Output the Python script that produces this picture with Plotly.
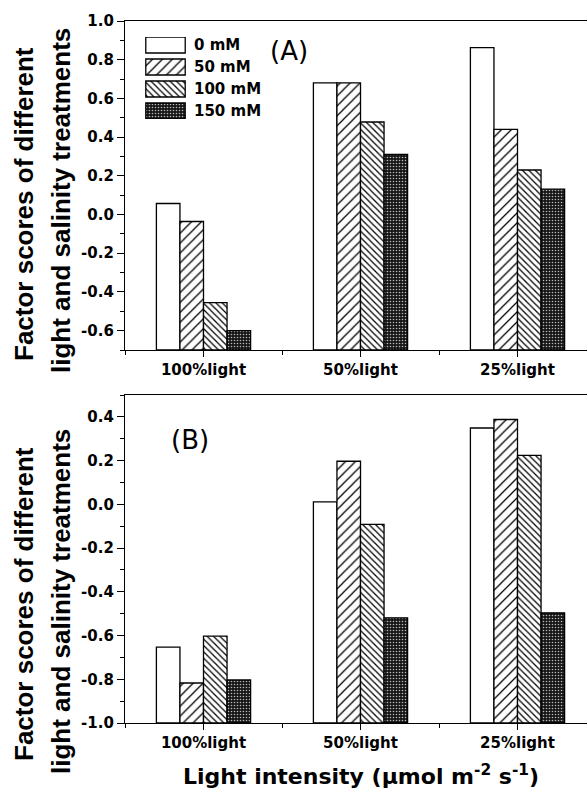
import plotly.graph_objects as go

W, H = 587, 792

# ---- data ----
categories = ["100%light", "50%light", "25%light"]
series_names = ["0 mM", "50 mM", "100 mM", "150 mM"]

scores_a = {
    "0 mM":   [0.057, 0.68, 0.862],
    "50 mM":  [-0.036, 0.68, 0.44],
    "100 mM": [-0.455, 0.478, 0.23],
    "150 mM": [-0.60, 0.311, 0.131],
}
scores_b = {
    "0 mM":   [-0.653, 0.011, 0.349],
    "50 mM":  [-0.817, 0.197, 0.388],
    "100 mM": [-0.603, -0.092, 0.224],
    "150 mM": [-0.803, -0.519, -0.496],
}

range_a = [-0.7, 1.0]
range_b = [-1.0, 0.5]

yticks_a = [-0.6, -0.4, -0.2, 0.0, 0.2, 0.4, 0.6, 0.8, 1.0]
ylabels_a = ["-0.6", "-0.4", "-0.2", "0.0", "0.2", "0.4", "0.6", "0.8", "1.0"]
yticks_b = [-1.0, -0.8, -0.6, -0.4, -0.2, 0.0, 0.2, 0.4]
ylabels_b = ["-1.0", "-0.8", "-0.6", "-0.4", "-0.2", "0.0", "0.2", "0.4"]

# ---- styles ----
patterns = {
    "0 mM":   dict(shape="", fgcolor="black", bgcolor="white"),
    "50 mM":  dict(shape="/", fgcolor="black", bgcolor="white", size=7, solidity=0.18, fillmode="replace"),
    "100 mM": dict(shape="\\", fgcolor="black", bgcolor="white", size=4.5, solidity=0.28, fillmode="replace"),
    "150 mM": dict(shape=".", fgcolor="#b8b8b8", bgcolor="#161616", size=3, solidity=0.22, fillmode="replace"),
}

TICK_FONT = dict(family="DejaVu Sans", size=15, color="black", weight="bold")


def px_x(p):
    return p / W


def px_y(p):
    return 1 - p / H


fig = go.Figure()

xpos = list(range(len(categories)))

for name in series_names:
    for vals, rng, xa, ya in ((scores_a[name], range_a, "x", "y"),
                              (scores_b[name], range_b, "x2", "y2")):
        base = rng[0]
        fig.add_trace(go.Bar(
            x=xpos, y=[v - base for v in vals], base=base,
            name=name, offsetgroup=name, showlegend=False,
            xaxis=xa, yaxis=ya,
            marker=dict(color="white", line=dict(color="black", width=1.3),
                        pattern=patterns[name]),
            customdata=vals, hovertemplate="%{customdata:.3f}<extra>" + name + "</extra>",
        ))

# legend swatches on their own hidden axes
for i, name in enumerate(series_names):
    fig.add_trace(go.Bar(
        x=[1], y=[i], base=0, orientation="h", width=0.727,
        xaxis="x3", yaxis="y3", showlegend=False, hoverinfo="skip",
        marker=dict(color="white", line=dict(color="black", width=1.3),
                    pattern=patterns[name]),
    ))

x_dom = [px_x(125), 1.0]
x_range = [-0.5, -0.5 + (W - 125) / 157.0]

common_x = dict(
    range=x_range, tickmode="array", tickvals=xpos, ticktext=categories,
    showline=True, linecolor="black", linewidth=1.3, mirror=True,
    ticks="outside", ticklen=6, tickwidth=1.2, tickcolor="black",
    tickfont=TICK_FONT, showgrid=False, zeroline=False, automargin=False,
    minor=dict(tick0=0.5, dtick=1, ticks="outside", ticklen=4, tickwidth=1.2, tickcolor="black"),
)
common_y = dict(
    tickmode="array",
    showline=True, linecolor="black", linewidth=1.3,
    ticks="outside", ticklen=7, tickwidth=1.2, tickcolor="black",
    tickfont=TICK_FONT, showgrid=False, zeroline=False, automargin=False,
    minor=dict(tickmode="linear", tick0=0, dtick=0.1, ticks="outside", ticklen=4,
               tickwidth=1.2, tickcolor="black"),
)

fig.update_layout(
    width=W, height=H,
    margin=dict(l=0, r=0, t=0, b=0, autoexpand=False),
    paper_bgcolor="white", plot_bgcolor="white",
    barmode="group", bargap=0.4, bargroupgap=0,
    xaxis=dict(domain=x_dom, anchor="y", **common_x),
    yaxis=dict(domain=[px_y(350), px_y(21)], anchor="x", range=range_a,
               tickvals=yticks_a, ticktext=ylabels_a, **common_y),
    xaxis2=dict(domain=x_dom, anchor="y2", **common_x),
    yaxis2=dict(domain=[px_y(723), px_y(395)], anchor="x2", range=range_b,
                tickvals=yticks_b, ticktext=ylabels_b, **common_y),
    xaxis3=dict(domain=[px_x(145), px_x(186)], anchor="y3", range=[-0.02, 1.02],
                visible=False, automargin=False),
    yaxis3=dict(domain=[px_y(119), px_y(37)], anchor="x3", range=[3.364, -0.364],
                visible=False, automargin=False),
    font=dict(family="DejaVu Sans", color="black"),
)

ann = []
# legend labels
for i, name in enumerate(series_names):
    ann.append(dict(text="<b>" + name + "</b>", x=px_x(192), y=px_y(45 + 22 * i),
                    xanchor="left", yanchor="middle",
                    font=dict(family="DejaVu Sans", size=15, color="black")))

# panel tags
ann.append(dict(text="(A)", x=px_x(289), y=px_y(51), xanchor="center", yanchor="middle",
                font=dict(family="DejaVu Sans", size=26, color="black")))
ann.append(dict(text="(B)", x=px_x(190), y=px_y(440), xanchor="center", yanchor="middle",
                font=dict(family="DejaVu Sans", size=26, color="black")))

# y-axis titles (two lines each)
ytitle = ["Factor scores of different", "light and salinity treatments"]
for yc1, yc2 in ((204, 201), (604, 602)):
    for txt, xc, yc in ((ytitle[0], 24, yc1), (ytitle[1], 61, yc2)):
        ann.append(dict(text="<b>" + txt + "</b>", x=px_x(xc), y=px_y(yc), textangle=-90,
                        xanchor="center", yanchor="middle",
                        font=dict(family="Liberation Sans", size=26, color="black")))

# x-axis title
ann.append(dict(text="<b>Light intensity (μmol m<sup>-2</sup> s<sup>-1</sup>)</b>",
                x=px_x(361), y=px_y(775), xanchor="center", yanchor="middle",
                font=dict(family="DejaVu Sans", size=22, color="black")))

for a in ann:
    a.update(xref="paper", yref="paper", showarrow=False)
fig.update_layout(annotations=ann)

fig.write_html("out.html")
